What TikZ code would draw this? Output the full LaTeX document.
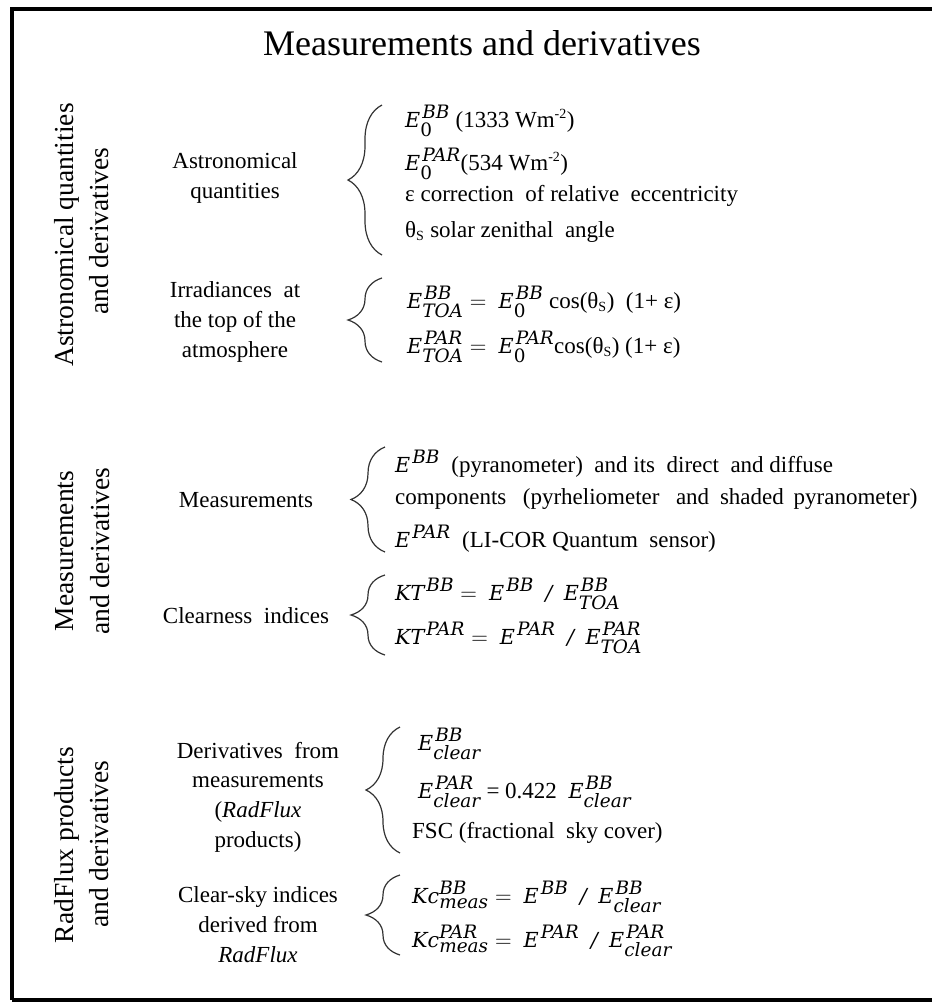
\RequirePackage{fix-cm}
\documentclass[tikz,border=0pt]{standalone}
\usepackage{amsmath}
\usepackage{fontspec}
\setmainfont{Liberation Serif}
\DeclareMathSizes{23}{23}{20.5}{16}
\newfontfamily\mathletters{DejaVu Serif}[Scale=0.9]
\newcommand{\mv}[1]{\text{\mathletters\itshape #1}}
\newcommand{\mn}[1]{\text{\mathletters #1}}
\newcommand{\sps}[1]{\textsuperscript{\fontsize{14}{14}\selectfont #1}}
\newcommand{\sbs}[1]{\textsubscript{\fontsize{14}{14}\selectfont #1}}
\newcommand{\slsep}{\enspace\mv{/}\enspace}
\usetikzlibrary{decorations.pathreplacing}
\tikzset{
  body/.style={font=\fontsize{23}{28}\selectfont, inner sep=0pt, anchor=base west},
  mid/.style={font=\fontsize{23}{28}\selectfont, inner sep=0pt, anchor=base},
  side/.style={font=\fontsize{27.5}{34}\selectfont, inner sep=0pt, anchor=base, rotate=90},
  ttl/.style={font=\fontsize{36}{42}\selectfont, inner sep=0pt, anchor=base},
  brc/.style={decorate, decoration={brace, amplitude=34pt}, line width=1.2pt, draw=black!80},
  frame/.style={line width=4pt, draw=black}
}
\begin{document}
\begin{tikzpicture}[x=1pt,y=-1pt]
\useasboundingbox (0,0) rectangle (932,1005);
% frame
\draw[frame] (12,1000) -- (12,9) -- (950,9);
\draw[frame] (12,1000) -- (950,1000);
% title
\node[ttl] (title) at (482,55) {Measurements and derivatives};
% side labels
\node[side] (s1a) at (73,235) {Astronomical quantities};
\node[side] (s1b) at (108,231) {and derivatives};
\node[side] (s2a) at (73,551) {Measurements};
\node[side] (s2b) at (109,551) {and derivatives};
\node[side] (s3a) at (73,845) {RadFlux products};
\node[side] (s3b) at (108,844) {and derivatives};
% middle labels
\node[mid] (m1a) at (235,168) {Astronomical};
\node[mid] (m1b) at (235,198) {quantities};
\node[mid] (m2a) at (235,297) {Irradiances\ \ at};
\node[mid] (m2b) at (235,327) {the top of the};
\node[mid] (m2c) at (235,357) {atmosphere};
\node[mid] (m3a) at (246,507) {Measurements};
\node[mid] (m4a) at (246,623) {Clearness\ \ indices};
\node[mid] (m5a) at (258,758) {Derivatives\ \ from};
\node[mid] (m5b) at (258,787) {measurements};
\node[mid] (m5c) at (258,817) {(\textit{RadFlux}};
\node[mid] (m5d) at (258,847) {products)};
\node[mid] (m6a) at (258,902) {Clear-sky indices};
\node[mid] (m6b) at (258,932) {derived from};
\node[mid] (m6c) at (258,962) {\textit{RadFlux}};
% braces
\coordinate (b1t) at (382,105); \coordinate (b1b) at (382,255);
\coordinate (b2t) at (382,278); \coordinate (b2b) at (382,362);
\coordinate (b3t) at (385,447); \coordinate (b3b) at (385,552);
\coordinate (b4t) at (385,575); \coordinate (b4b) at (385,655);
\coordinate (b5t) at (400,727); \coordinate (b5b) at (400,853);
\coordinate (b6t) at (400,875); \coordinate (b6b) at (400,955);
\draw[brc] (b1b) -- (b1t);
\draw[brc] (b2b) -- (b2t);
\draw[brc] (b3b) -- (b3t);
\draw[brc] (b4b) -- (b4t);
\draw[brc] (b5b) -- (b5t);
\draw[brc] (b6b) -- (b6t);
% right column, section 1
\node[body] (r1a) at (405,127) {$\mv{E}_{\mn{0}}^{\kern2pt\mv{BB}}$ (1333 Wm\sps{-2})};
\node[body] (r1b) at (405,170) {$\mv{E}_{\mn{0}}^{\kern2pt\mv{PAR}}$(534 Wm\sps{-2})};
\node[body] (r1c) at (405,201) {ε correction\ \ of relative\ \ eccentricity};
\node[body] (r1d) at (405,237) {θ\sbs{S} solar zenithal\ \ angle};
% section 2
\node[body] (r2a) at (407,308) {$\mv{E}_{\mv{TOA}}^{\kern2pt\mv{BB}} =\ \mv{E}_{\mn{0}}^{\kern2pt\mv{BB}}$ cos(θ\sbs{S})\ \ (1+ ε)};
\node[body] (r2b) at (407,353) {$\mv{E}_{\mv{TOA}}^{\kern2pt\mv{PAR}} =\ \mv{E}_{\mn{0}}^{\kern2pt\mv{PAR}}$cos(θ\sbs{S}) (1+ ε)};
% section 3
\node[body] (r3a) at (395,472) {$\mv{E}^{\kern2pt\mv{BB}}$\ \ (pyranometer)\ \ and its\ \ direct\ \ and diffuse};
\node[body] (r3b) at (395,504) {components\ \ \hspace{5pt}(pyrheliometer\ \ \hspace{5pt}and\hspace{5pt} shaded\ \hspace{4pt}pyranometer)};
\node[body] (r3c) at (395,547) {$\mv{E}^{\kern2pt\mv{PAR}}$\ \ (LI-COR Quantum\ \ sensor)};
% section 4
\node[body] (r4a) at (395,600) {$\mv{KT}^{\kern2pt\mv{BB}} =\ \mv{E}^{\kern2pt\mv{BB}}\slsep\mv{E}_{\mv{TOA}}^{\kern2pt\mv{BB}}$};
\node[body] (r4b) at (395,644) {$\mv{KT}^{\kern2pt\mv{PAR}} =\ \mv{E}^{\kern2pt\mv{PAR}}\slsep\mv{E}_{\mv{TOA}}^{\kern2pt\mv{PAR}}$};
% section 5
\node[body] (r5a) at (418,750) {$\mv{E}_{\mv{clear}}^{\kern2pt\mv{BB}}$};
\node[body] (r5b) at (418,798) {$\mv{E}_{\mv{clear}}^{\kern2pt\mv{PAR}}$ = 0.422\ \ $\mv{E}_{\mv{clear}}^{\kern2pt\mv{BB}}$};
\node[body] (r5c) at (412,838) {FSC (fractional\ \ sky cover)};
% section 6
\node[body] (r6a) at (412,903) {$\mv{Kc}_{\mv{meas}}^{\mv{BB}} =\ \mv{E}^{\kern2pt\mv{BB}}\slsep\mv{E}_{\mv{clear}}^{\kern2pt\mv{BB}}$};
\node[body] (r6b) at (412,947) {$\mv{Kc}_{\mv{meas}}^{\mv{PAR}} =\ \mv{E}^{\kern2pt\mv{PAR}}\slsep\mv{E}_{\mv{clear}}^{\kern2pt\mv{PAR}}$};
\end{tikzpicture}
\end{document}
